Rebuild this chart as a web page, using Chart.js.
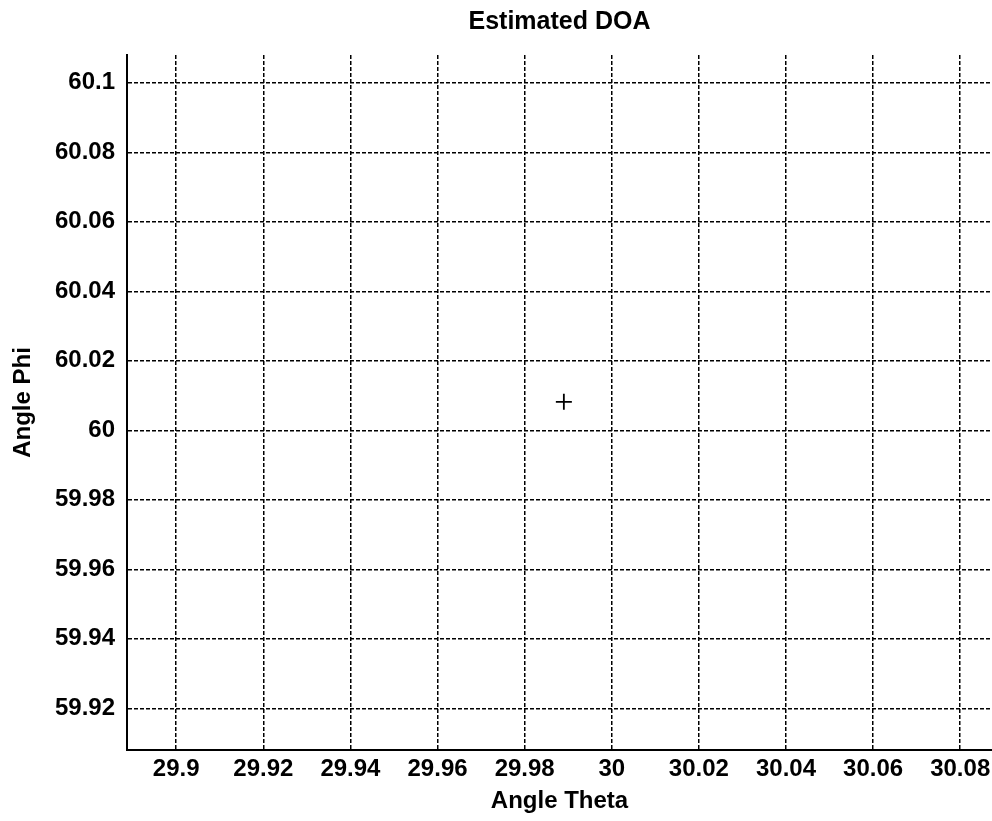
<!DOCTYPE html>
<html>
<head>
<meta charset="utf-8">
<title>Estimated DOA</title>
<script src="https://cdn.jsdelivr.net/npm/chart.js@4.4.1/dist/chart.umd.min.js"></script>
<style>
  html, body { margin: 0; padding: 0; background: #fff; }
  #wrap { width: 992px; height: 821px; }
</style>
</head>
<body>
<div id="wrap"><canvas id="doaChart"></canvas></div>
<script>
// estimated direction of arrival (one point)
const thetaValues = [29.989];
const phiValues = [60.0082];

// axis ranges and tick labels
const thetaRange = [29.8887, 30.0873];
const phiRange = [59.908, 60.108];
const thetaTicks = [29.9, 29.92, 29.94, 29.96, 29.98, 30, 30.02, 30.04, 30.06, 30.08];
const phiTicks = [59.92, 59.94, 59.96, 59.98, 60, 60.02, 60.04, 60.06, 60.08, 60.1];

const points = thetaValues.map((t, i) => ({x: t, y: phiValues[i]}));

function fmt(v) {
  return String(Number(v.toFixed(2)));
}

Chart.defaults.font.family = "'Liberation Sans', Arial, sans-serif";
Chart.defaults.font.weight = 'bold';
Chart.defaults.font.size = 24;
Chart.defaults.color = '#000';

const ctx = document.getElementById('doaChart').getContext('2d');
new Chart(ctx, {
  type: 'scatter',
  data: {
    datasets: [{
      label: 'DOA',
      data: points,
      pointStyle: 'cross',
      pointRadius: 8,
      pointBorderWidth: 1.8,
      borderColor: '#000',
      backgroundColor: '#000'
    }]
  },
  options: {
    responsive: true,
    maintainAspectRatio: false,
    animation: false,
    layout: { padding: 0, autoPadding: false },
    plugins: {
      legend: { display: false },
      tooltip: { enabled: false },
      title: {
        display: true,
        fullSize: false,   // centre over the plot, not the canvas
        text: 'Estimated DOA',
        font: { size: 25, weight: 'bold' },
        padding: { top: 7, bottom: 18 }
      }
    },
    scales: {
      x: {
        type: 'linear',
        min: thetaRange[0],
        max: thetaRange[1],
        afterBuildTicks: s => { s.ticks = thetaTicks.map(v => ({value: v})); },
        afterFit: s => { s.height = 71; s.paddingLeft = 0; s.paddingRight = 0; },
        ticks: {
          padding: 5,
          maxRotation: 0,
          autoSkip: false,
          callback: v => fmt(v)
        },
        grid: { color: '#000', lineWidth: 1.5, drawTicks: false },
        border: { display: true, color: '#000', width: 2, dash: [4, 2] },
        title: {
          display: true,
          text: 'Angle Theta',
          font: { size: 24, weight: 'bold' },
          padding: { top: 3, bottom: 5 }
        }
      },
      y: {
        type: 'linear',
        min: phiRange[0],
        max: phiRange[1],
        afterBuildTicks: s => { s.ticks = phiTicks.map(v => ({value: v})); },
        afterFit: s => { s.width = 127; s.paddingTop = 0; s.paddingBottom = 0; },
        ticks: {
          padding: 12,
          autoSkip: false,
          callback: v => fmt(v)
        },
        grid: { color: '#000', lineWidth: 1.5, drawTicks: false },
        border: { display: true, color: '#000', width: 2, dash: [4, 2] },
        title: {
          display: true,
          text: 'Angle Phi',
          font: { size: 24, weight: 'bold' },
          padding: { top: 9, bottom: 17 }
        }
      }
    }
  }
});
</script>
</body>
</html>
